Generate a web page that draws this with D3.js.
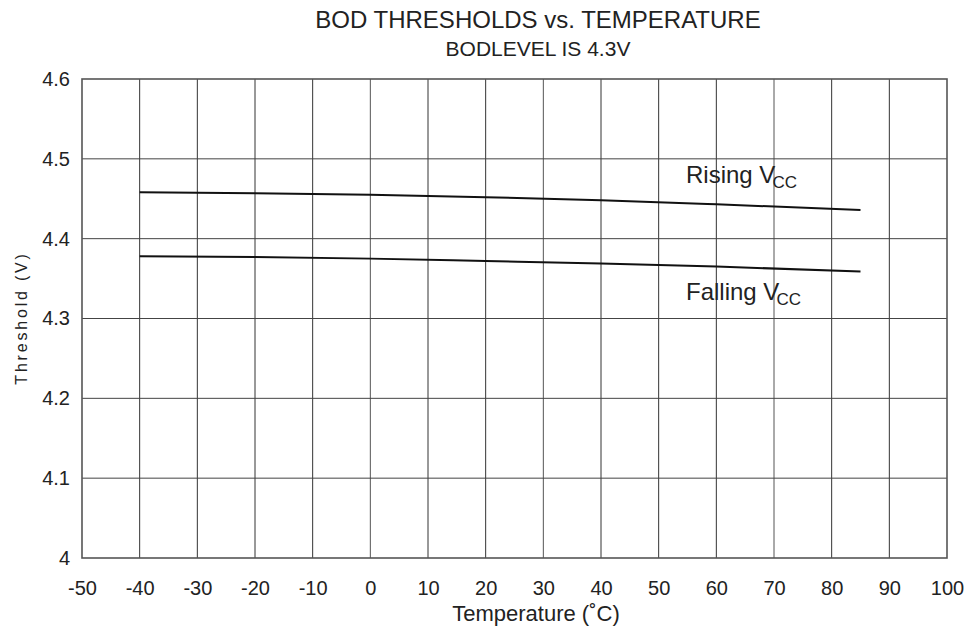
<!DOCTYPE html>
<html><head><meta charset="utf-8">
<script src="https://cdn.jsdelivr.net/npm/d3@7"></script>
<style>body{margin:0;background:#fff}svg{display:block}text{font-family:"Liberation Sans",Arial,sans-serif;fill:#222}</style>
</head><body><svg id="c" width="970" height="642"></svg>
<script>
const temps = [-40, -20, 0, 20, 40, 60, 85];
const rising = [4.458, 4.457, 4.455, 4.452, 4.448, 4.443, 4.436];
const falling = [4.378, 4.377, 4.375, 4.372, 4.369, 4.365, 4.359];
const xTicks = [-50,-40,-30,-20,-10,0,10,20,30,40,50,60,70,80,90,100];
const yTicks = [4,4.1,4.2,4.3,4.4,4.5,4.6];
const yTickLabels = ["4","4.1","4.2","4.3","4.4","4.5","4.6"];

const svg = d3.select("#c");
const L=82,R=947,T=79,B=558;
const x = d3.scaleLinear().domain([-50,100]).range([L,R]);
const y = d3.scaleLinear().domain([4,4.6]).range([B,T]);

// grid
svg.append("g").selectAll("line").data(xTicks.slice(1,-1)).join("line")
  .attr("x1",d=>x(d)).attr("x2",d=>x(d)).attr("y1",T).attr("y2",B)
  .attr("stroke",d=>d===0||d===30||d===70?"#555":"#333").attr("stroke-width",1);
svg.append("g").selectAll("line").data(yTicks.slice(1,-1)).join("line")
  .attr("y1",d=>y(d)).attr("y2",d=>y(d)).attr("x1",L).attr("x2",R)
  .attr("stroke","#444").attr("stroke-width",1);
svg.append("rect").attr("x",L).attr("y",T).attr("width",R-L).attr("height",B-T)
  .attr("fill","none").attr("stroke","#555").attr("stroke-width",1.6);

// axes labels
const xAxis = d3.axisBottom(x).tickValues(xTicks).tickSize(0).tickPadding(23).tickFormat(d=>String(d));
const gx = svg.append("g").attr("transform",`translate(0,${B})`).call(xAxis);
gx.select(".domain").remove();
gx.selectAll("text").attr("font-size",20).attr("fill","#222").attr("font-family","Liberation Sans, Arial, sans-serif");
const yAxis = d3.axisLeft(y).tickValues(yTicks).tickSize(0).tickPadding(12).tickFormat((d,i)=>yTickLabels[i]);
const gy = svg.append("g").attr("transform",`translate(${L},0)`).call(yAxis);
gy.select(".domain").remove();
gy.selectAll("text").attr("font-size",20).attr("fill","#222").attr("font-family","Liberation Sans, Arial, sans-serif");

// lines
const line = d3.line().x(d=>x(d[0])).y(d=>y(d[1])).curve(d3.curveMonotoneX);
[rising,falling].forEach(s=>{
  svg.append("path").attr("d",line(temps.map((t,i)=>[t,s[i]])))
    .attr("fill","none").attr("stroke","#111").attr("stroke-width",2);
});

// series labels
function lbl(px,py,main){
  const t=svg.append("text").attr("x",px).attr("y",py).attr("font-size",24);
  t.append("tspan").text(main+" V");
  t.append("tspan").attr("font-size",17).attr("dy",5).attr("dx",-3).text("CC");
}
lbl(686,183,"Rising");
lbl(686,300,"Falling");

// titles
svg.append("text").attr("x",538).attr("y",28).attr("text-anchor","middle").attr("font-size",24).text("BOD THRESHOLDS vs. TEMPERATURE");
svg.append("text").attr("x",538).attr("y",56).attr("text-anchor","middle").attr("font-size",21).text("BODLEVEL IS 4.3V");
svg.append("text").attr("x",536).attr("y",621).attr("text-anchor","middle").attr("font-size",22).text("Temperature (˚C)");
svg.append("text").attr("transform","translate(27,318) rotate(-90)").attr("text-anchor","middle").attr("font-size",16).attr("letter-spacing",2.8).text("Threshold (V)");
</script></body></html>
